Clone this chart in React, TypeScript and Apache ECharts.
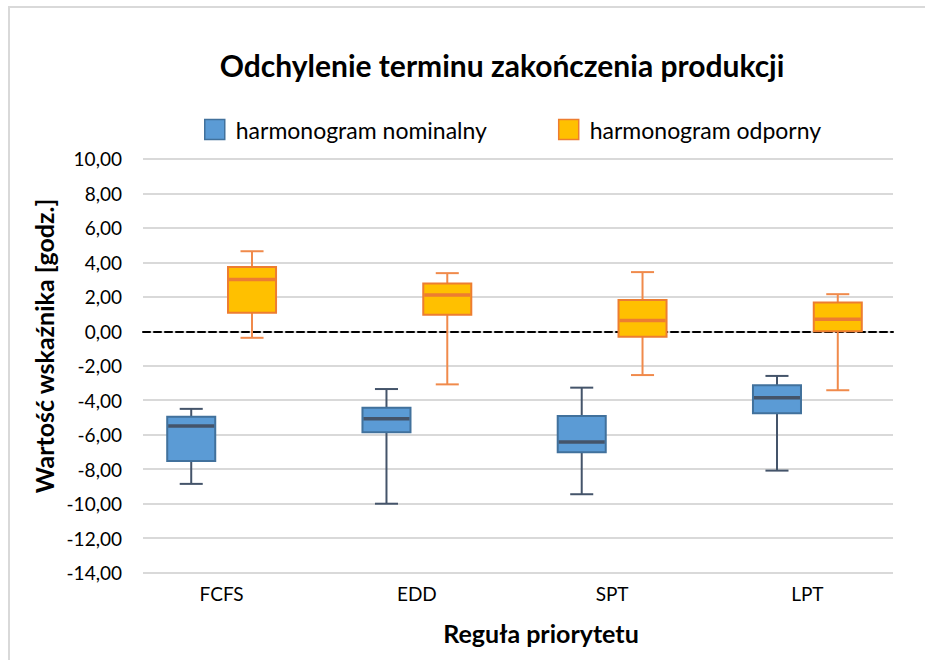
import React, { useEffect, useRef } from "react";
import * as echarts from "echarts";

const categories = ["FCFS", "EDD", "SPT", "LPT"];
const seriesNames = ["harmonogram nominalny", "harmonogram odporny"];
// [min, Q1, median, Q3, max]
const nominal = [
  [-8.85, -7.52, -5.49, -4.95, -4.5],
  [-10.0, -5.86, -5.08, -4.43, -3.35],
  [-9.45, -7.01, -6.42, -4.91, -3.27],
  [-8.08, -4.76, -3.85, -3.13, -2.59],
];
const robust = [
  [-0.38, 1.07, 3.0, 3.73, 4.64],
  [-3.08, 0.96, 2.1, 2.77, 3.37],
  [-2.54, -0.32, 0.63, 1.81, 3.43],
  [-3.42, 0.0, 0.69, 1.67, 2.15],
];
const yMin = -14;
const yMax = 10;
const yStep = 2;

const FONT = "Lato";

function makeRender(offsetFrac: number, fill: string, border: string, whisker: string, median: string) {
  return (params: any, api: any) => {
    const xi = api.value(0);
    const low = api.value(1);
    const q1 = api.value(2);
    const med = api.value(3);
    const q3 = api.value(4);
    const high = api.value(5);
    const bw = api.size([1, 0])[0];
    const cx = api.coord([xi, 0])[0] + bw * offsetFrac;
    const yLow = api.coord([xi, low])[1];
    const yQ1 = api.coord([xi, q1])[1];
    const yMed = api.coord([xi, med])[1];
    const yQ3 = api.coord([xi, q3])[1];
    const yHigh = api.coord([xi, high])[1];
    const boxW = bw * 0.246;
    const capW = bw * 0.118;
    const ws = { stroke: whisker, lineWidth: 2 };
    return {
      type: "group",
      children: [
        { type: "line", shape: { x1: cx, y1: yHigh, x2: cx, y2: yQ3 }, style: ws },
        { type: "line", shape: { x1: cx, y1: yQ1, x2: cx, y2: yLow }, style: ws },
        { type: "line", shape: { x1: cx - capW / 2, y1: yHigh, x2: cx + capW / 2, y2: yHigh }, style: ws },
        { type: "line", shape: { x1: cx - capW / 2, y1: yLow, x2: cx + capW / 2, y2: yLow }, style: ws },
        {
          type: "rect",
          shape: { x: cx - boxW / 2, y: yQ3, width: boxW, height: yQ1 - yQ3 },
          style: { fill, stroke: border, lineWidth: 2 },
        },
        {
          type: "line",
          shape: { x1: cx - boxW / 2 + 1, y1: yMed, x2: cx + boxW / 2 - 1, y2: yMed },
          style: { stroke: median, lineWidth: 3.5 },
        },
      ],
    };
  };
}

export default function App() {
  const ref = useRef<HTMLDivElement>(null);
  useEffect(() => {
    if (!ref.current) return;
    const chart = echarts.init(ref.current, undefined, { renderer: "svg" });
    const nomData = nominal.map((d, i) => [i, ...d]);
    const robData = robust.map((d, i) => [i, ...d]);
    const gridTop = 158.8;
    const gridBottom = 660 - 572.7;
    chart.setOption({
      animation: false,
      backgroundColor: "#ffffff",
      textStyle: { fontFamily: FONT },
      graphic: [
        {
          type: "rect",
          shape: { x: 9, y: 7, width: 1000, height: 1000 },
          style: { fill: "none", stroke: "#d9d9d9", lineWidth: 2 },
          silent: true,
        },
        {
          type: "text",
          x: 502,
          y: 65,
          style: {
            text: "Odchylenie terminu zakończenia produkcji",
            font: `bold 30px ${FONT}`,
            fill: "#000000",
            align: "center",
            verticalAlign: "middle",
          },
        },
        {
          type: "text",
          x: 44,
          y: 346,
          rotation: Math.PI / 2,
          style: {
            text: "Wartość wskaźnika [godz.]",
            font: `bold 25px ${FONT}`,
            fill: "#000000",
            align: "center",
            verticalAlign: "middle",
          },
        },
        {
          type: "text",
          x: 541,
          y: 633,
          style: {
            text: "Reguła priorytetu",
            font: `bold 25px ${FONT}`,
            fill: "#000000",
            align: "center",
            verticalAlign: "middle",
          },
        },
      ],
      legend: {
        left: 199,
        top: 113,
        itemWidth: 20,
        itemHeight: 20,
        itemGap: 71,
        textStyle: { fontFamily: FONT, fontSize: 23, color: "#000000", padding: [0, 0, 0, 6] },
        data: [
          {
            name: seriesNames[0],
            icon: "rect",
            itemStyle: { color: "#5b9bd5", borderColor: "#41719c", borderWidth: 1.5 },
          },
          {
            name: seriesNames[1],
            icon: "rect",
            itemStyle: { color: "#ffc000", borderColor: "#ed7d31", borderWidth: 1.5 },
          },
        ],
      },
      grid: [
        { left: 143, right: 32, top: gridTop, bottom: gridBottom },
        { left: 124, right: 20, top: gridTop, bottom: gridBottom },
      ],
      xAxis: [
        {
          type: "category",
          gridIndex: 0,
          data: categories,
          axisLabel: { show: false },
          axisTick: { show: false },
          axisLine: {
            show: true,
            onZero: true,
            lineStyle: { color: "#000000", width: 2, type: [7, 4] },
          },
          z: 3,
        },
        {
          type: "category",
          gridIndex: 1,
          data: categories,
          axisTick: { show: false },
          axisLine: { show: false },
          axisLabel: { fontFamily: FONT, fontSize: 19, color: "#000000", margin: 11 },
        },
      ],
      yAxis: [
        {
          type: "value",
          gridIndex: 0,
          min: yMin,
          max: yMax,
          interval: yStep,
          axisLine: { show: false },
          axisTick: { show: false },
          axisLabel: {
            fontFamily: FONT,
            fontSize: 19,
            color: "#000000",
            margin: 21,
            formatter: (v: number) => v.toFixed(2).replace(".", ","),
          },
          splitLine: { show: true, lineStyle: { color: "#d9d9d9", width: 2 } },
        },
        {
          type: "value",
          gridIndex: 1,
          min: yMin,
          max: yMax,
          interval: yStep,
          show: false,
          splitLine: { show: false },
        },
      ],
      series: [
        {
          name: seriesNames[0],
          type: "custom",
          xAxisIndex: 1,
          yAxisIndex: 1,
          z: 10,
          itemStyle: { color: "#5b9bd5" },
          encode: { x: 0, y: [1, 2, 3, 4, 5] },
          renderItem: makeRender(-0.1557, "#5b9bd5", "#41719c", "#44546a", "#44546a"),
          data: nomData,
        },
        {
          name: seriesNames[1],
          type: "custom",
          xAxisIndex: 1,
          yAxisIndex: 1,
          z: 10,
          itemStyle: { color: "#ffc000" },
          encode: { x: 0, y: [1, 2, 3, 4, 5] },
          renderItem: makeRender(0.1557, "#ffc000", "#ed7d31", "#f08a4b", "#ed7d31"),
          data: robData,
        },
      ],
    });
    return () => chart.dispose();
  }, []);
  return (
    <div
      ref={ref}
      style={{ position: "fixed", left: 0, top: 0, width: 925, height: 660 }}
    />
  );
}
